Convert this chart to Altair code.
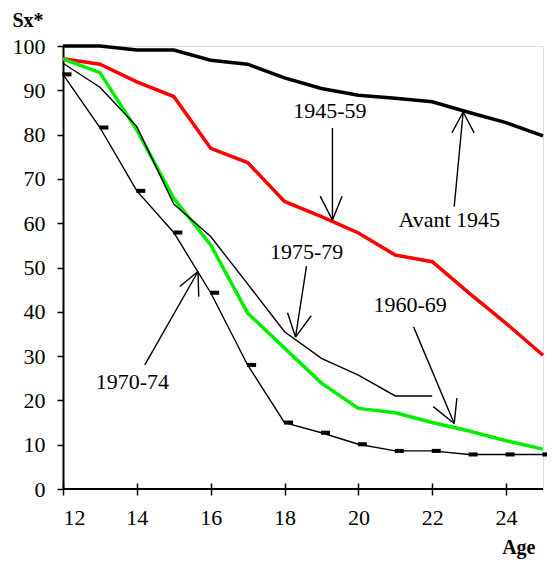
import altair as alt
import pandas as pd

ages = list(range(12, 26))
avant_1945 = [100, 100, 99.1, 99.1, 96.8, 95.9, 92.8, 90.4, 88.9, 88.2, 87.4, 85.0, 82.7, 79.7]
s1945_59 = [97.1, 95.9, 91.9, 88.6, 76.9, 73.7, 64.9, 61.5, 57.8, 52.8, 51.3, 44.2, 37.4, 30.2]
s1960_69 = [97.1, 94.0, 81.0, 65.6, 55.1, 39.7, 31.8, 23.9, 18.2, 17.2, 15.0, 13.1, 10.9, 9.0]
ages_7579 = list(range(12, 23))
s1975_79 = [96.1, 90.7, 81.8, 64.3, 57.0, 46.3, 35.5, 29.5, 25.7, 21.0, 21.0]
s1970_74 = [93.6, 81.6, 67.3, 57.9, 44.3, 28.0, 15.0, 12.7, 10.1, 8.6, 8.6, 7.8, 7.8, 7.8]

x_ticks = [12, 14, 16, 18, 20, 22, 24]
y_ticks = [0, 10, 20, 30, 40, 50, 60, 70, 80, 90, 100]

# annotation labels (data coordinates)
label_text = ["1945-59", "Avant 1945", "1975-79", "1960-69", "1970-74"]
label_x = [19.23, 22.46, 18.60, 21.40, 13.88]
label_y = [85.4, 60.7, 53.4, 41.5, 24.2]

# arrow segments: shaft + two wings each (data coordinates)
arrow_x1 = [19.297, 18.965, 19.559, 22.595, 22.532, 23.135, 18.595, 18.081, 18.722, 21.495, 22.027, 22.668, 14.216, 15.162, 15.676]
arrow_y1 = [81.5, 66.1, 66.1, 63.7, 80.4, 80.4, 50.3, 39.8, 39.1, 36.6, 18.6, 20.5, 28.0, 45.7, 43.4]
arrow_x2 = [19.297, 19.297, 19.297, 22.838, 22.838, 22.838, 18.297, 18.297, 18.297, 22.595, 22.595, 22.595, 15.657, 15.657, 15.657]
arrow_y2 = [60.7, 60.7, 60.7, 85.1, 85.1, 85.1, 34.3, 34.3, 34.3, 14.8, 14.8, 14.8, 49.1, 49.1, 49.1]

FONT = "Times New Roman, Liberation Serif, serif"

xscale = alt.Scale(domain=[12, 25], nice=False, zero=False)
yscale = alt.Scale(domain=[0, 100], nice=False)

x_axis = alt.Axis(values=x_ticks, title="Age", offset=-6, tickSize=12, tickWidth=1.5,
                  tickColor="black", domain=False, grid=False, labelPadding=12,
                  labelFont=FONT, labelFontSize=22, labelColor="black",
                  titleFont=FONT, titleFontSize=20, titleFontWeight="bold", titleColor="black",
                  titleX=472, titleY=64, titleAlign="right", titleBaseline="middle",
                  titleAnchor="end")
y_axis = alt.Axis(values=y_ticks, title="Sx*", tickSize=6, tickWidth=1.5, tickColor="black",
                  domainColor="black", domainWidth=2, grid=False, labelPadding=12,
                  labelFont=FONT, labelFontSize=22, labelColor="black",
                  titleFont=FONT, titleFontSize=20, titleFontWeight="bold", titleColor="black",
                  titleAngle=0, titleX=-51, titleY=-26, titleAlign="left",
                  titleBaseline="middle")


def series_line(xs, ys, color, width, with_axes=False):
    d = pd.DataFrame({"age": xs, "val": ys})
    if with_axes:
        enc_x = alt.X("age:Q", scale=xscale, axis=x_axis)
        enc_y = alt.Y("val:Q", scale=yscale, axis=y_axis)
    else:
        enc_x = alt.X("age:Q", scale=xscale)
        enc_y = alt.Y("val:Q", scale=yscale)
    return alt.Chart(d).mark_line(color=color, strokeWidth=width).encode(x=enc_x, y=enc_y)


l_avant = series_line(ages, avant_1945, "#000000", 3.5, with_axes=True)
l_4559 = series_line(ages, s1945_59, "#ff0000", 3.5)
l_6069 = series_line(ages, s1960_69, "#00ee00", 3.5)
l_7579 = series_line(ages_7579, s1975_79, "#000000", 1.4)
l_7074 = series_line(ages, s1970_74, "#000000", 1.4)

marker_df = pd.DataFrame({"age": ages, "val": s1970_74})
markers = alt.Chart(marker_df).mark_point(
    shape="M-1,-0.45L1,-0.45L1,0.45L-1,0.45Z", size=81, filled=True, color="black",
    opacity=1, xOffset=4
).encode(x=alt.X("age:Q", scale=xscale), y=alt.Y("val:Q", scale=yscale))

base_df = pd.DataFrame({"x1": [12], "x2": [25], "y": [0]})
baseline = alt.Chart(base_df).mark_rule(color="black", strokeWidth=2).encode(
    x=alt.X("x1:Q", scale=xscale), x2="x2:Q", y=alt.Y("y:Q", scale=yscale))

arrow_df = pd.DataFrame({"x1": arrow_x1, "y1": arrow_y1, "x2": arrow_x2, "y2": arrow_y2})
arrows = alt.Chart(arrow_df).mark_rule(color="black", strokeWidth=1.4).encode(
    x=alt.X("x1:Q", scale=xscale), y=alt.Y("y1:Q", scale=yscale), x2="x2:Q", y2="y2:Q")

lab_df = pd.DataFrame({"t": label_text, "x": label_x, "y": label_y})
labels = alt.Chart(lab_df).mark_text(font=FONT, fontSize=22, color="black",
                                     align="center", baseline="middle").encode(
    x=alt.X("x:Q", scale=xscale), y=alt.Y("y:Q", scale=yscale), text="t:N")

chart = alt.layer(l_avant, l_4559, l_6069, l_7579, l_7074, markers, baseline, arrows, labels).properties(
    width=480, height=443,
    autosize=alt.AutoSizeParams(type="none"),
    padding={"left": 55, "top": 38, "right": 4, "bottom": 72},
).configure_view(stroke="black", strokeWidth=1.2).configure(background="white")

chart.save("out.html", embed_options={"renderer": "svg", "actions": False})
